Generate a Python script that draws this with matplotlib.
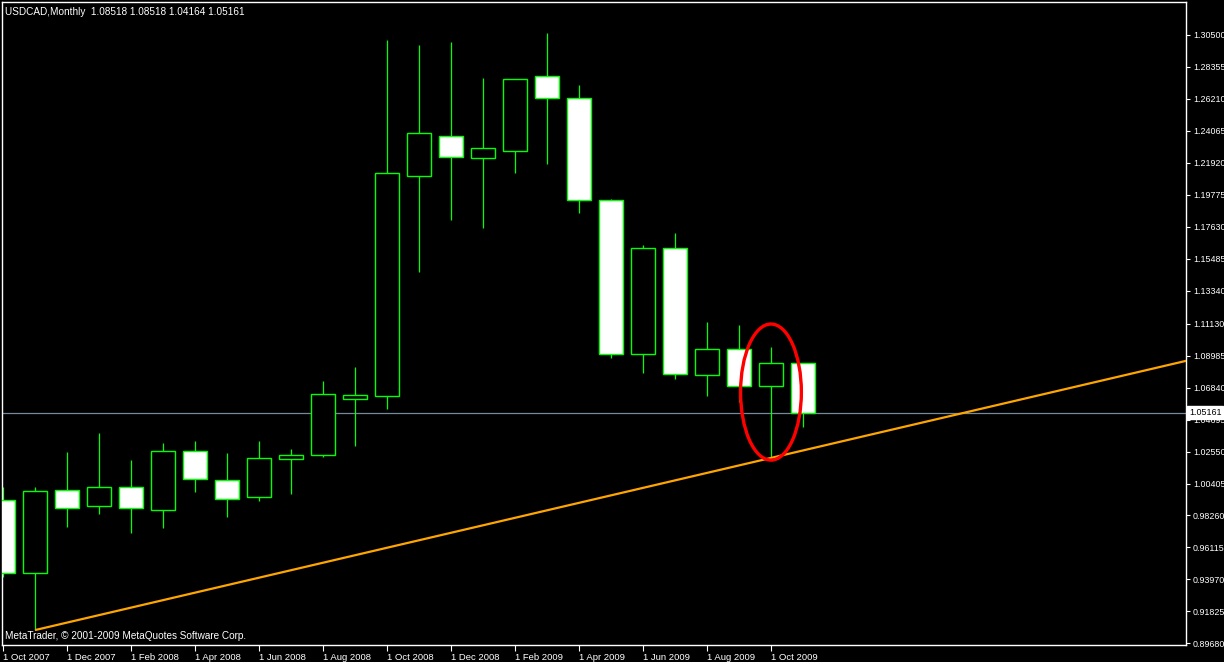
import matplotlib
matplotlib.use("Agg")
import matplotlib.pyplot as plt
from matplotlib.patches import Ellipse
from matplotlib.transforms import blended_transform_factory

plt.rcParams['font.family'] = ['Liberation Sans', 'DejaVu Sans']

# ---- data ----
months = ["Oct 2007", "Nov 2007", "Dec 2007", "Jan 2008", "Feb 2008", "Mar 2008",
          "Apr 2008", "May 2008", "Jun 2008", "Jul 2008", "Aug 2008", "Sep 2008",
          "Oct 2008", "Nov 2008", "Dec 2008", "Jan 2009", "Feb 2009", "Mar 2009",
          "Apr 2009", "May 2009", "Jun 2009", "Jul 2009", "Aug 2009", "Sep 2009",
          "Oct 2009", "Nov 2009"]
opens = [0.9930, 0.9440, 0.9997, 0.9890, 1.0017, 0.9863, 1.0259, 1.0064, 0.9950,
         1.0205, 1.0232, 1.0608, 1.0628, 1.2104, 1.2372, 1.2225, 1.2272, 1.2775,
         1.2627, 1.1943, 1.0909, 1.1621, 1.0769, 1.0943, 1.0695, 1.08518]
highs = [1.0017, 1.0017, 1.0252, 1.0379, 1.0198, 1.0312, 1.0326, 1.0245, 1.0326,
         1.0272, 1.0728, 1.0822, 1.3016, 1.2983, 1.3003, 1.2761, 1.2755, 1.3063,
         1.2715, 1.1950, 1.1641, 1.1721, 1.1124, 1.1104, 1.0957, 1.08518]
lows = [0.9413, 0.9057, 0.9749, 0.9836, 0.9708, 0.9742, 0.9983, 0.9816, 0.9923,
        0.9970, 1.0220, 1.0292, 1.0540, 1.1460, 1.1809, 1.1755, 1.2124, 1.2184,
        1.1856, 1.0883, 1.0782, 1.0742, 1.0628, 1.0587, 1.0212, 1.04164]
closes = [0.9440, 0.9990, 0.9876, 1.0017, 0.9876, 1.0259, 1.0071, 0.9937, 1.0212,
          1.0232, 1.0641, 1.0634, 1.2124, 1.2392, 1.2231, 1.2292, 1.2755, 1.2627,
          1.1943, 1.0909, 1.1621, 1.0775, 1.0943, 1.0695, 1.0850, 1.05161]

xtick_idx = [0, 2, 4, 6, 8, 10, 12, 14, 16, 18, 20, 22, 24]
xtick_labels = ["1 Oct 2007", "1 Dec 2007", "1 Feb 2008", "1 Apr 2008", "1 Jun 2008",
                "1 Aug 2008", "1 Oct 2008", "1 Dec 2008", "1 Feb 2009", "1 Apr 2009",
                "1 Jun 2009", "1 Aug 2009", "1 Oct 2009"]
ytick_labels = ["1.30500", "1.28355", "1.26210", "1.24065", "1.21920", "1.19775",
                "1.17630", "1.15485", "1.13340", "1.11130", "1.08985", "1.06840",
                "1.04695", "1.02550", "1.00405", "0.98260", "0.96115", "0.93970",
                "0.91825", "0.89680"]
current_price = 1.05161
trend_points = [(1, 0.9057), (24, 1.0212)]
trend_end_idx = 37
ellipse_center = (24, 1.0654)
title = "USDCAD,Monthly  1.08518 1.08518 1.04164 1.05161"
footer = "MetaTrader, \u00a9 2001-2009 MetaQuotes Software Corp."

# ---- figure ----
W, H = 1224, 662
fig = plt.figure(figsize=(W / 100, H / 100), dpi=100, facecolor="black")
ax = fig.add_axes([2 / W, (H - 645) / H, (1186 - 2) / W, (645 - 2) / H])
ax.set_facecolor("black")
ax.set_xlim(-0.031, 36.97)
ax.set_ylim(0.8957, 1.3271)

green = "#00FF00"
xs = list(range(len(months)))
ax.vlines(xs, lows, highs, color=green, lw=0.9, zorder=2)
for i in xs:
    o, c = opens[i], closes[i]
    fill = "black" if c > o else "white"
    ax.bar(i, max(abs(c - o), 0.0004), bottom=min(o, c), width=0.75,
           color=fill, edgecolor=green, linewidth=1.0, zorder=3)

# current price line
ax.axhline(current_price, color="#778899", lw=0.9, zorder=1)

# trend line
(x1, y1), (x2, y2) = trend_points
slope = (y2 - y1) / (x2 - x1)
ax.plot([x1, trend_end_idx], [y1, y1 + slope * (trend_end_idx - x1)],
        color="#FFA500", lw=1.6, zorder=4, solid_capstyle="butt")

# red ellipse
ax.add_patch(Ellipse(ellipse_center, width=1.9, height=0.0913, fill=False,
                     edgecolor="#FF0000", lw=2.4, zorder=5))

# axes styling
for s in ax.spines.values():
    s.set_color("white")
    s.set_linewidth(1.0)
ax.yaxis.tick_right()
ax.set_yticks([float(v) for v in ytick_labels])
ax.set_yticklabels(ytick_labels)
ax.set_xticks(xtick_idx)
ax.set_xticklabels(xtick_labels)
ax.tick_params(axis="y", colors="white", length=3, width=0.8, pad=2, labelsize=6.4)
ax.tick_params(axis="x", colors="white", length=4, width=0.8, pad=2, labelsize=6.8)
for lab in ax.get_xticklabels():
    lab.set_horizontalalignment("left")

# price tag
trans = blended_transform_factory(ax.transAxes, ax.transData)
ax.text(1.0025, current_price, "1.05161", transform=trans, ha="left", va="center",
        fontsize=6.4, color="black", zorder=10, clip_on=False,
        bbox=dict(facecolor="white", edgecolor="white", pad=1.2))

fig.text(5 / W, 1 - 12 / H, title, color="white", fontsize=7.2, ha="left", va="center")
fig.text(5 / W, 1 - 636 / H, footer, color="white", fontsize=7.2, ha="left", va="center")

fig.savefig("out.png", dpi=100, facecolor="black")
